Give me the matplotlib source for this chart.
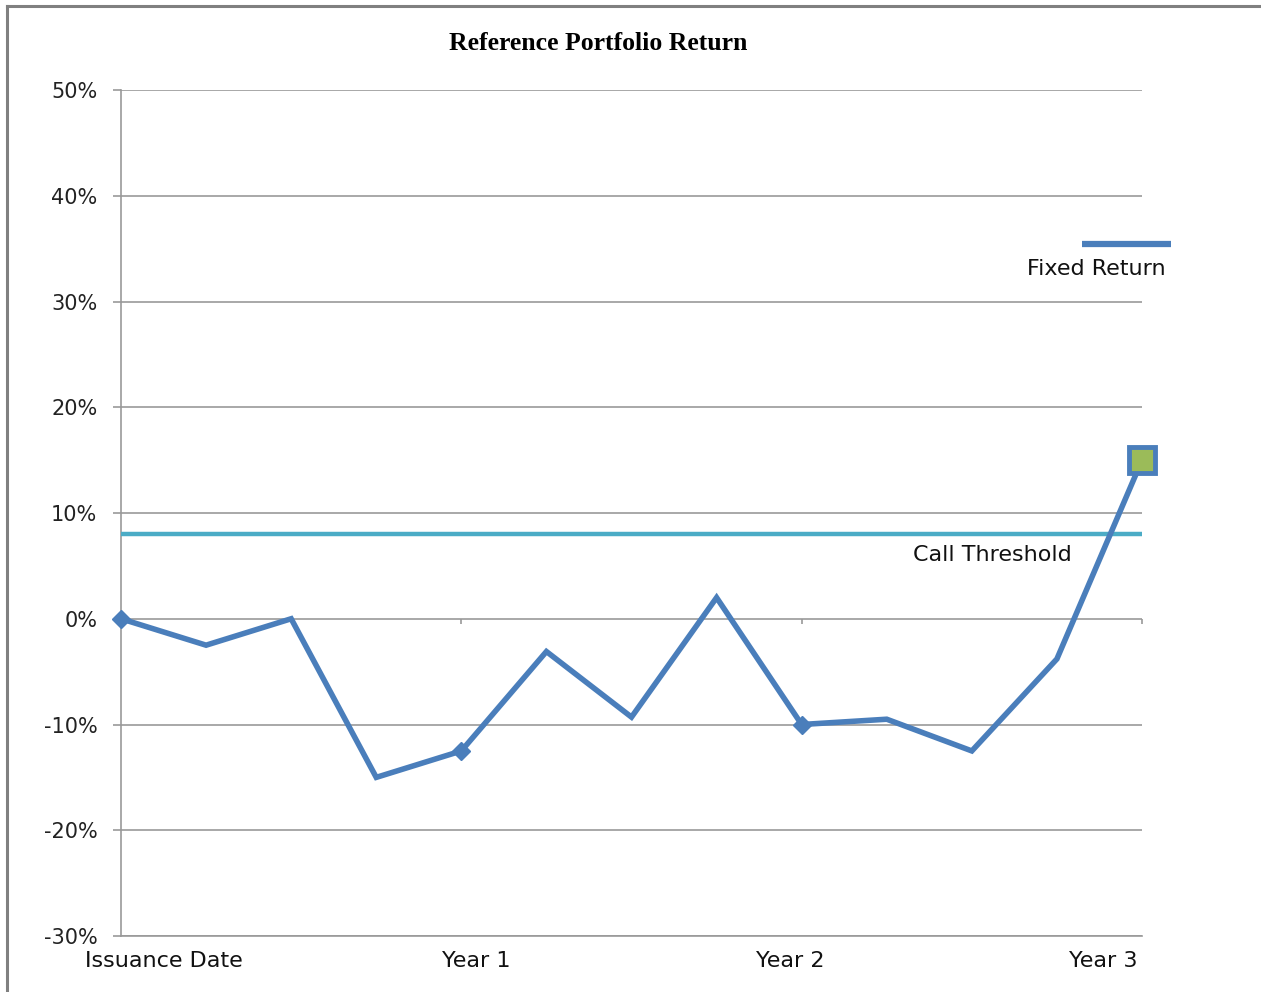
import matplotlib.pyplot as plt
from matplotlib.lines import Line2D
from matplotlib.ticker import FuncFormatter

# reference portfolio return, 13 observation dates
periods = list(range(13))
returns = [0.0, -2.5, 0.0, -15.0, -12.5, -3.1, -9.3, 2.0, -10.0, -9.5, -12.5, -3.8, 15.0]
marker_idx = [0, 4, 8]          # diamond markers (issuance + yearly observations)
call_threshold = 8.0
fixed_return = 35.4
yticks = [-30, -20, -10, 0, 10, 20, 30, 40, 50]
xlabels = ['Issuance Date', 'Year 1', 'Year 2', 'Year 3']
xlabel_pos = [0.505, 4.18, 7.86, 11.54]

blue = '#4a7ebb'
aqua = '#4bacc6'
green = '#9bbb59'
grid_c = '#999999'

fig = plt.figure(figsize=(12.61, 9.92), dpi=100)
ax = fig.add_axes([121/1261, 1 - 936/992, (1142-121)/1261, (936-90)/992])

ax.set_xlim(0, 12)
ax.set_ylim(-30, 50)
ax.set_yticks(yticks)
ax.yaxis.set_major_formatter(FuncFormatter(lambda v, p: f'{v:.0f}%'))
ax.set_xticks([])
ax.grid(axis='y', color=grid_c, linewidth=1.2)
ax.set_axisbelow(True)
for s in ['top', 'right']:
    ax.spines[s].set_visible(False)
ax.spines['left'].set_color(grid_c)
ax.spines['bottom'].set_color(grid_c)
ax.spines['left'].set_linewidth(1.2)
ax.spines['bottom'].set_linewidth(1.2)
ax.tick_params(axis='y', length=6, width=1.2, color=grid_c, pad=11,
               labelsize=15, labelcolor='#222222')

# small ticks along the zero line
ax.vlines([4, 8, 12], -0.5, 0, color=grid_c, linewidth=1.2, clip_on=False)

# call threshold
ax.axhline(call_threshold, color=aqua, linewidth=3.2, zorder=3)
ax.text(11.17, call_threshold - 2.0, 'Call Threshold', ha='right', va='center',
        fontsize=16, color='#111111')

# portfolio return
ax.plot(periods, returns, color=blue, linewidth=4, zorder=4,
        solid_joinstyle='miter', clip_on=False)
ax.plot([periods[i] for i in marker_idx], [returns[i] for i in marker_idx],
        'D', color=blue, markersize=9, zorder=5, clip_on=False)
ax.plot(periods[-1], returns[-1], 's', markerfacecolor=green, markeredgecolor=blue,
        markeredgewidth=3.5, markersize=19, zorder=6, clip_on=False)

# fixed return marker outside the plot area
ax.plot([11.3, 12.34], [fixed_return, fixed_return], color=blue, linewidth=4.5,
        solid_capstyle='butt', clip_on=False)
ax.text(12.28, fixed_return - 2.3, 'Fixed Return', ha='right', va='center',
        fontsize=16, color='#111111')

for pos, lab in zip(xlabel_pos, xlabels):
    ax.text(pos, -32.4, lab, ha='center', va='center', fontsize=16, color='#111111',
            clip_on=False)

fig.text(598/1261, 1 - 43/992, 'Reference Portfolio Return', ha='center', va='center',
         fontsize=18.5, fontweight='bold', family='Liberation Serif')

# chart frame (top and left edges)
fig.add_artist(Line2D([7/1261, 1], [1 - 5.5/992, 1 - 5.5/992], color='#808080',
                      linewidth=2.2, transform=fig.transFigure))
fig.add_artist(Line2D([7/1261, 7/1261], [0, 1 - 5.5/992], color='#808080',
                      linewidth=2.2, transform=fig.transFigure))

fig.savefig('out.png', dpi=100)
